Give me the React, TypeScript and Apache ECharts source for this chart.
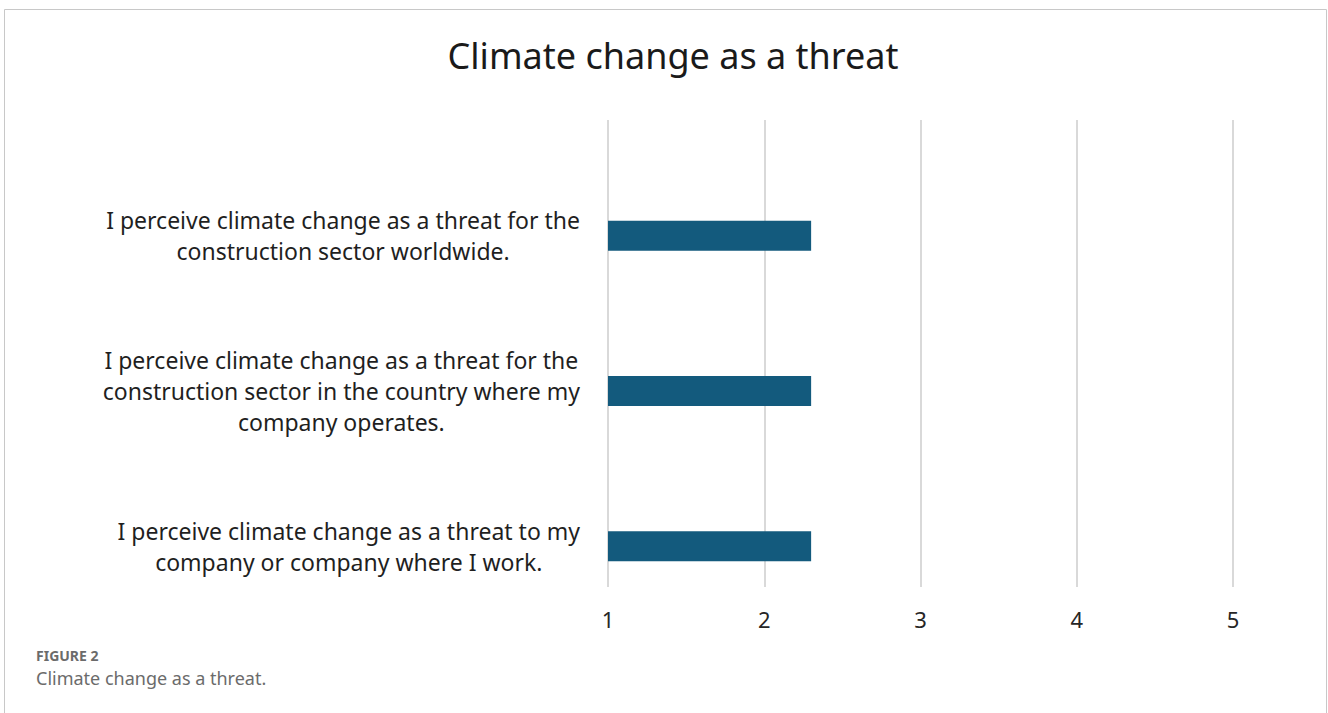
import React, { useEffect, useRef } from "react";
import * as echarts from "echarts";

const categories = [
  "I perceive climate change as a threat for the\nconstruction sector worldwide.",
  "I perceive climate change as a threat for the\nconstruction sector in the country where my\ncompany operates.",
  "I perceive climate change as a threat to my\ncompany or company where I work.",
];
const values = [2.3, 2.3, 2.3];
const xTicks = [1, 2, 3, 4, 5];

const FONT = "'Noto Sans', sans-serif";

export default function App() {
  const ref = useRef<HTMLDivElement>(null);
  useEffect(() => {
    if (!ref.current) return;
    const chart = echarts.init(ref.current, undefined, { renderer: "svg" });
    chart.setOption({
      animation: false,
      backgroundColor: "#ffffff",
      textStyle: { fontFamily: FONT },
      title: {
        text: "Climate change as a threat",
        left: 668,
        top: 32,
        textAlign: "center",
        textStyle: { fontSize: 36, fontWeight: "normal", color: "#1a1a1a", fontFamily: FONT },
      },
      grid: [
        { left: 608, right: 95, top: 120, bottom: 126, containLabel: false },
        { left: 608, right: 95, top: 158, bottom: 89, containLabel: false },
      ],
      xAxis: [
        {
          gridIndex: 0,
          type: "value",
          min: xTicks[0],
          max: xTicks[xTicks.length - 1],
          interval: 1,
          axisLine: { show: false },
          axisTick: { show: false },
          splitLine: { show: true, lineStyle: { color: "#d9d9d9", width: 2 } },
          axisLabel: { margin: 21, fontSize: 22, color: "#262626", fontFamily: FONT },
        },
        {
          gridIndex: 1,
          type: "value",
          min: xTicks[0],
          max: xTicks[xTicks.length - 1],
          interval: 1,
          show: false,
          splitLine: { show: false },
        },
      ],
      yAxis: [
        {
          gridIndex: 0,
          type: "category",
          data: categories,
          show: false,
        },
        {
          gridIndex: 1,
          type: "category",
          data: categories,
          inverse: true,
          axisLine: { show: false },
          axisTick: { show: false },
          splitLine: { show: false },
          axisLabel: {
            margin: 28,
            align: "right",
            formatter: (v: string) =>
              v
                .split("\n")
                .map((l) => "{c|" + l + "}")
                .join("\n"),
            rich: {
              c: {
                align: "center",
                fontSize: 23,
                lineHeight: 31,
                color: "#1f1f1f",
                fontFamily: FONT,
              },
            },
          },
        },
      ],
      series: [
        {
          type: "bar",
          xAxisIndex: 1,
          yAxisIndex: 1,
          data: values,
          barWidth: 30,
          itemStyle: { color: "#135a7d" },
        },
      ],
      graphic: [
        {
          type: "rect",
          shape: { x: 4.5, y: 9.5, width: 1322, height: 760 },
          style: { fill: "none", stroke: "#c8c8c8", lineWidth: 1 },
          silent: true,
        },
        {
          type: "text",
          x: 36,
          y: 655,
          style: {
            text: "FIGURE 2",
            fontSize: 14,
            fontWeight: "bold",
            fill: "#6b6b6b",
            fontFamily: FONT,
            verticalAlign: "middle",
          },
        },
        {
          type: "text",
          x: 36,
          y: 678,
          style: {
            text: "Climate change as a threat.",
            fontSize: 18,
            fill: "#6b6b6b",
            fontFamily: FONT,
            verticalAlign: "middle",
          },
        },
      ],
    });
    return () => chart.dispose();
  }, []);
  return (
    <div
      ref={ref}
      style={{ position: "fixed", left: 0, top: 0, width: 1328, height: 713 }}
    />
  );
}
